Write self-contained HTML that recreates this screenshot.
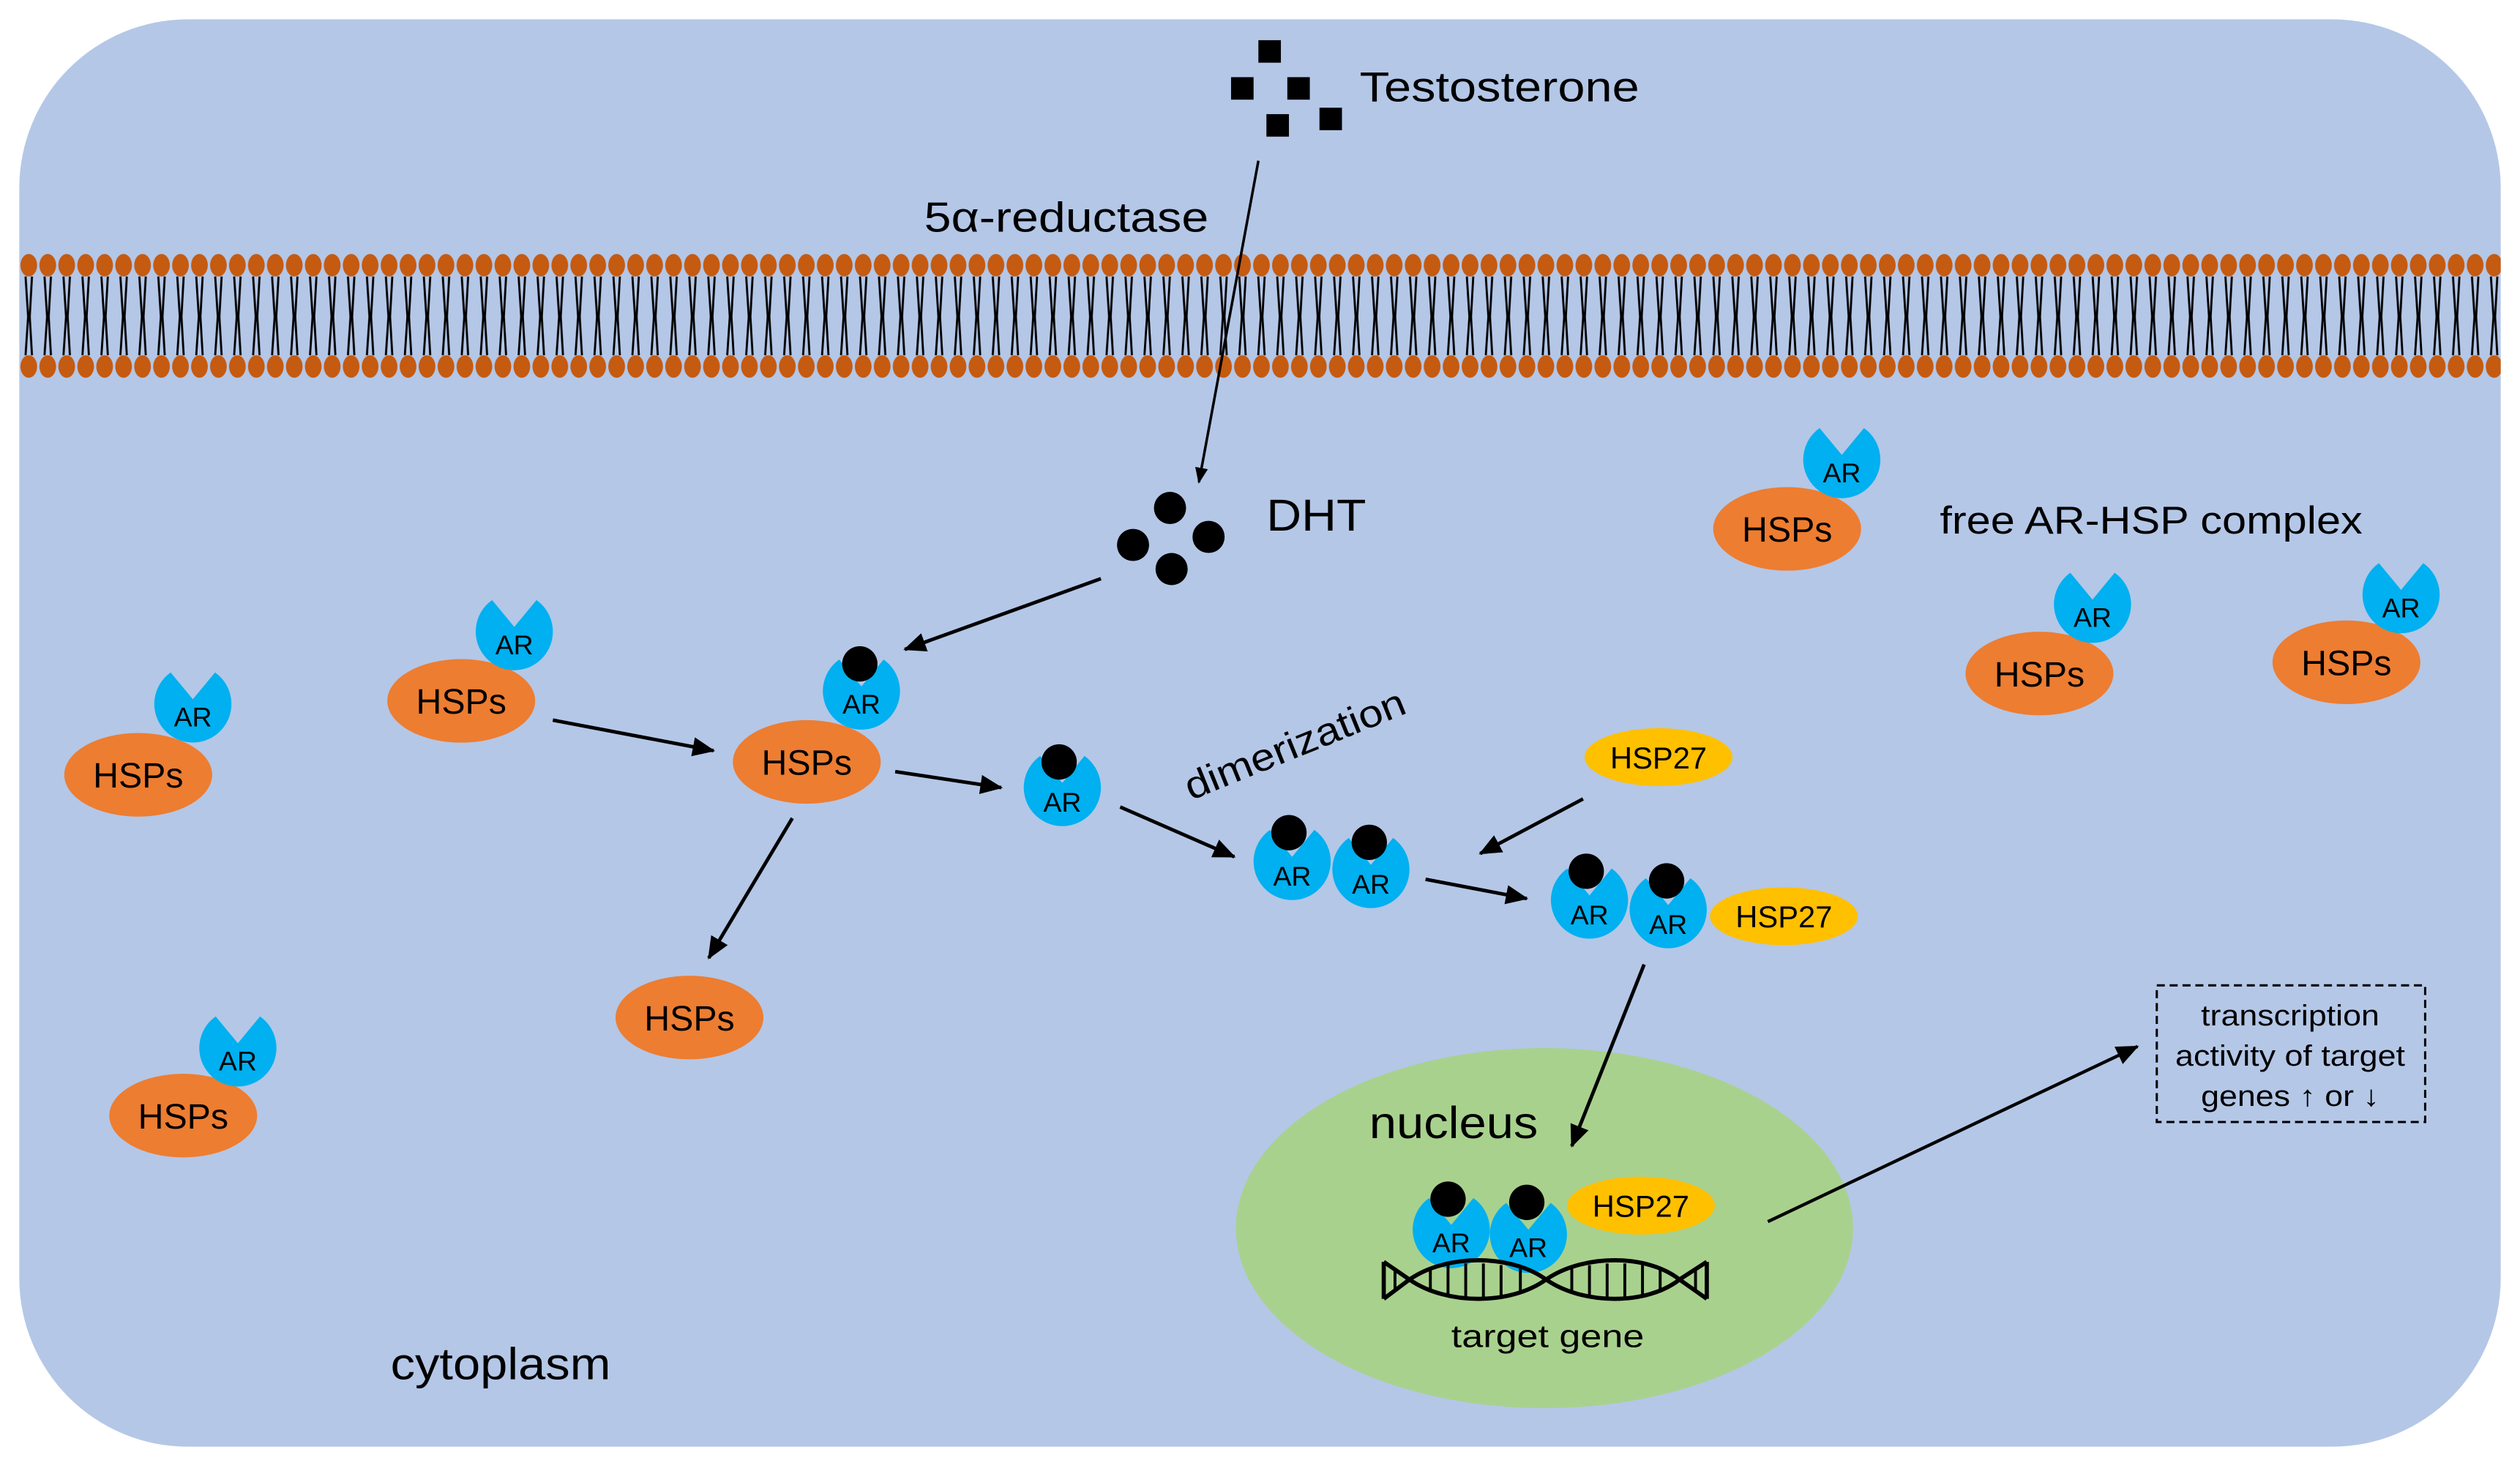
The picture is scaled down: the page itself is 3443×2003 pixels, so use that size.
<!DOCTYPE html>
<html><head><meta charset="utf-8"><style>
html,body{margin:0;padding:0;background:#fff;}
svg{display:block;}
text{font-family:"Liberation Sans",sans-serif;fill:#000;}
</style></head><body>
<svg width="3443" height="2003" viewBox="0 0 1568 912" preserveAspectRatio="none" xmlns="http://www.w3.org/2000/svg">
<defs>
<marker id="ah" markerWidth="10" markerHeight="8" refX="9" refY="4" orient="auto" markerUnits="userSpaceOnUse" viewBox="0 0 10 8">
<path d="M0,0 L10,4 L0,8 Z" fill="#000"/></marker>
<marker id="ah2" markerWidth="14" markerHeight="12" refX="13" refY="6" orient="auto" markerUnits="userSpaceOnUse" viewBox="0 0 14 12">
<path d="M0,0 L14,6 L0,12 Z" fill="#000"/></marker>
<pattern id="mem" x="12" y="150" width="11.8" height="100" patternUnits="userSpaceOnUse">
<ellipse cx="5.9" cy="15" rx="5.2" ry="7" fill="#c55a11"/>
<ellipse cx="5.9" cy="78" rx="5.2" ry="7" fill="#c55a11"/>
<path d="M3.9,22 L5.5,47 L3.9,71 M7.9,22 L6.5,47 L7.9,71" stroke="#000" stroke-width="1.3" fill="none"/>
</pattern>
<path id="ar" d="M0,-3 L13.8,-19.7 A24,24 0 1,1 -13.8,-19.7 Z" fill="#00b0f0"/>
</defs>
<rect x="12" y="12" width="1544" height="888" rx="105" ry="105" fill="#b4c7e7"/>
<rect x="12" y="150" width="1544" height="100" fill="url(#mem)"/>

<g fill="#000">
<rect x="783" y="25" width="14" height="14"/><rect x="766" y="48" width="14" height="14"/>
<rect x="801" y="48" width="14" height="14"/><rect x="788" y="71" width="14" height="14"/>
<rect x="821" y="67" width="14" height="14"/>
</g>
<text x="846" y="63" font-size="26" textLength="174" lengthAdjust="spacingAndGlyphs">Testosterone</text>
<text x="575" y="144" font-size="26" textLength="177" lengthAdjust="spacingAndGlyphs">5α-reductase</text>
<line x1="783" y1="100" x2="746" y2="300" stroke="#000" stroke-width="1.6" marker-end="url(#ah)"/>

<g fill="#000"><circle cx="728" cy="316" r="10"/><circle cx="705" cy="339" r="10"/><circle cx="752" cy="334" r="10"/><circle cx="729" cy="354" r="10"/></g>
<text x="788" y="330" font-size="28" textLength="62" lengthAdjust="spacingAndGlyphs">DHT</text>

<g font-size="22" text-anchor="middle">
<ellipse cx="86" cy="482" rx="46" ry="26" fill="#ed7d31"/><text x="86" y="490">HSPs</text>
<ellipse cx="287" cy="436" rx="46" ry="26" fill="#ed7d31"/><text x="287" y="444">HSPs</text>
<ellipse cx="502" cy="474" rx="46" ry="26" fill="#ed7d31"/><text x="502" y="482">HSPs</text>
<ellipse cx="429" cy="633" rx="46" ry="26" fill="#ed7d31"/><text x="429" y="641">HSPs</text>
<ellipse cx="114" cy="694" rx="46" ry="26" fill="#ed7d31"/><text x="114" y="702">HSPs</text>
<ellipse cx="1112" cy="329" rx="46" ry="26" fill="#ed7d31"/><text x="1112" y="337">HSPs</text>
<ellipse cx="1269" cy="419" rx="46" ry="26" fill="#ed7d31"/><text x="1269" y="427">HSPs</text>
<ellipse cx="1460" cy="412" rx="46" ry="26" fill="#ed7d31"/><text x="1460" y="420">HSPs</text>
</g>
<g font-size="17" text-anchor="middle">
<use href="#ar" x="120" y="438"/><text x="120" y="452">AR</text>
<use href="#ar" x="320" y="393"/><text x="320" y="407">AR</text>
<use href="#ar" x="536" y="430"/><text x="536" y="444">AR</text><circle cx="535" cy="413" r="11" fill="#000"/>
<use href="#ar" x="148" y="652"/><text x="148" y="666">AR</text>
<use href="#ar" x="1146" y="286"/><text x="1146" y="300">AR</text>
<use href="#ar" x="1302" y="376"/><text x="1302" y="390">AR</text>
<use href="#ar" x="1494" y="370"/><text x="1494" y="384">AR</text>
<use href="#ar" x="661" y="490"/><text x="661" y="505">AR</text><circle cx="659" cy="474" r="11" fill="#000"/>
<use href="#ar" x="804" y="536"/><text x="804" y="551">AR</text><circle cx="802" cy="518" r="11" fill="#000"/>
<use href="#ar" x="853" y="541"/><text x="853" y="556">AR</text><circle cx="852" cy="524" r="11" fill="#000"/>
<use href="#ar" x="989" y="560"/><text x="989" y="575">AR</text><circle cx="987" cy="542" r="11" fill="#000"/>
<use href="#ar" x="1038" y="566"/><text x="1038" y="581">AR</text><circle cx="1037" cy="548" r="11" fill="#000"/>
</g>
<text x="1207" y="332" font-size="24" textLength="263" lengthAdjust="spacingAndGlyphs">free AR-HSP complex</text>
<text x="0" y="0" font-size="24" transform="translate(741,498) rotate(-22)" textLength="146" lengthAdjust="spacingAndGlyphs">dimerization</text>

<g font-size="19" text-anchor="middle">
<ellipse cx="1032" cy="471" rx="46" ry="18" fill="#ffc000"/><text x="1032" y="478">HSP27</text>
<ellipse cx="1110" cy="570" rx="46" ry="18" fill="#ffc000"/><text x="1110" y="577">HSP27</text>
</g>

<g stroke="#000" stroke-width="2.2" marker-end="url(#ah2)">
<line x1="685" y1="360" x2="563" y2="404"/>
<line x1="344" y1="448" x2="444" y2="467"/>
<line x1="557" y1="480" x2="623" y2="490"/>
<line x1="493" y1="509" x2="441" y2="596"/>
<line x1="697" y1="502" x2="768" y2="533"/>
<line x1="887" y1="547" x2="950" y2="559"/>
<line x1="985" y1="497" x2="921" y2="531"/>
</g>

<ellipse cx="961" cy="764" rx="192" ry="112" fill="#a9d18e"/>
<line x1="1023" y1="600" x2="978" y2="713" stroke="#000" stroke-width="2.2" marker-end="url(#ah2)"/>
<line x1="1100" y1="760" x2="1330" y2="651" stroke="#000" stroke-width="2" marker-end="url(#ah2)"/>
<text x="852" y="708" font-size="28" textLength="105" lengthAdjust="spacingAndGlyphs">nucleus</text>
<g font-size="17" text-anchor="middle">
<use href="#ar" x="903" y="765"/><text x="903" y="779">AR</text><circle cx="901" cy="746" r="11" fill="#000"/>
<use href="#ar" x="951" y="768"/><text x="951" y="782">AR</text><circle cx="950" cy="748" r="11" fill="#000"/>
<ellipse cx="1021" cy="750" rx="46" ry="18" fill="#ffc000"/><text x="1021" y="757" font-size="19">HSP27</text>
</g>
<g stroke="#000" stroke-width="2.6" fill="none">
<path d="M861,785 L877,796 C900,812 940,812 962,796 C985,780 1025,780 1045,796 L1062,808"/>
<path d="M861,808 L877,796 C900,780 940,780 962,796 C985,812 1025,812 1045,796 L1062,785"/>
<line x1="861" y1="785" x2="861" y2="808"/><line x1="1062" y1="785" x2="1062" y2="808"/>
<g stroke-width="1.8">
<line x1="868" y1="790" x2="868" y2="803"/><line x1="890" y1="789" x2="890" y2="804"/><line x1="901" y1="787" x2="901" y2="806"/>
<line x1="912" y1="786" x2="912" y2="807"/><line x1="923" y1="786" x2="923" y2="807"/><line x1="934" y1="787" x2="934" y2="806"/>
<line x1="946" y1="789" x2="946" y2="804"/><line x1="978" y1="789" x2="978" y2="804"/><line x1="989" y1="787" x2="989" y2="806"/>
<line x1="1000" y1="786" x2="1000" y2="807"/><line x1="1011" y1="786" x2="1011" y2="807"/><line x1="1022" y1="787" x2="1022" y2="806"/>
<line x1="1033" y1="789" x2="1033" y2="804"/><line x1="1055" y1="790" x2="1055" y2="803"/>
</g>
</g>
<text x="963" y="838" font-size="20" text-anchor="middle" textLength="120" lengthAdjust="spacingAndGlyphs">target gene</text>

<rect x="1342" y="613" width="167" height="85" fill="none" stroke="#000" stroke-width="1.4" stroke-dasharray="5,3"/>
<g font-size="18" text-anchor="middle">
<text x="1425" y="638" textLength="111" lengthAdjust="spacingAndGlyphs">transcription</text>
<text x="1425" y="663" textLength="143" lengthAdjust="spacingAndGlyphs">activity of target</text>
<text x="1425" y="688" textLength="111" lengthAdjust="spacingAndGlyphs">genes ↑ or ↓</text>
</g>
<text x="243" y="858" font-size="28" textLength="137" lengthAdjust="spacingAndGlyphs">cytoplasm</text>
</svg>
</body></html>
